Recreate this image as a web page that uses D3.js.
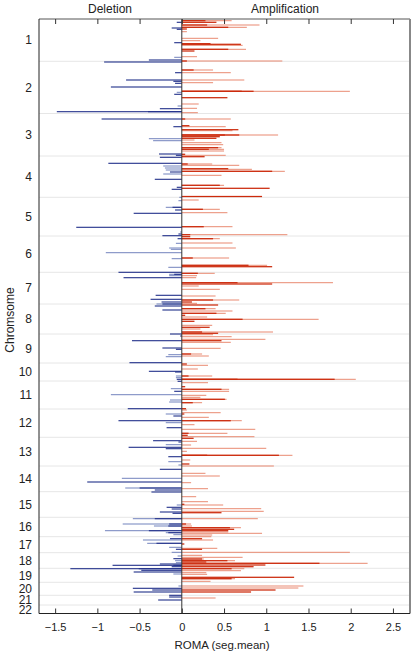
<!DOCTYPE html>
<html><head><meta charset="utf-8">
<script src="https://cdn.jsdelivr.net/npm/d3@7"></script>
<style>body{margin:0;background:#fff;}svg{display:block;font-family:"Liberation Sans",Arial,sans-serif;}</style>
</head><body><svg id="c" width="415" height="656"></svg>
<script>
// ---- data ----
const chromLabels = ["1","2","3","4","5","6","7","8","9","10","11","12","13","14","15","16","17","18","19","20","21","22"];
const chromStarts = [0,42.3,94.5,137,178.3,217,253.3,285,315,344,362,390,418.3,447,472.7,498.3,517.7,533.7,549.3,563.3,576.3,586];
const genomeEnd = 594.5;
const xTicks = [-1.5,-1,-0.5,0,0.5,1,1.5,2,2.5];

// amplification (dark segments)
const ampDarkPos = [1.7,3.3,6,8.3,10,24.7,25.3,30.3,32,42,51,72.3,72.3,78.7,100,106.7,110.7,116,116,117.7,119.3,128.7,130.3,135.3,137.7,145,149.7,152.3,166.3,169.3,177.5,190.3,207.7,215.7,217.7,219.7,239,246.3,247.7,254.3,263.7,265,281,283,286,289.7,294.3,296.3,300.3,302.3,308.3,313,314.3,321.7,335,345,357,360.3,360.3,367.7,370.3,380.3,383.7,389.7,395,401.7,414.3,416.3,419.3,436.3,436.3,445,485.3,493.7,505,508.7,510.3,511.7,519.7,525,530.3,540,541.7,543,544.3,546,547.7,549.7,558.3,559.7,571,573];
const ampDarkVal = [0.28,0.41,0.30,0.55,0.06,0.34,0.70,0.55,0.15,0.06,0.14,0.71,0.85,0.54,0.04,0.09,0.67,0.51,0.68,0.45,0.41,0.43,0.32,0.04,0.27,0.07,0.55,1.07,0.45,1.04,0.95,0.25,0.26,0.10,0.10,0.37,0.13,0.79,1.07,0.19,0.66,1.07,0.37,0.12,0.43,0.28,0.41,0.04,0.72,0.15,0.33,0.24,0.43,0.47,0.11,0.06,0.08,0.66,1.81,0.04,0.47,0.51,0.13,0.05,0.03,0.58,0.08,0.07,0.14,0.30,1.15,0.09,0.03,0.47,0.05,0.57,0.62,0.55,0.24,0.03,0.24,0.24,0.54,0.29,1.63,0.99,0.85,0.59,1.33,0.59,1.11,0.82];
// amplification (light segments)
const ampLightPos = [1.7,6,8.3,12.7,19.3,21.7,26.3,30.3,37.7,42,51,53.7,61,63.7,72.3,85,89.3,93.7,100,107.7,111.7,116,121,123.7,125.7,128.7,130.3,132,136.3,145,146.3,150.3,152.3,156.3,166.3,181,190.3,193.7,207.7,215.7,219.7,224,229,239,246.3,254.3,256.7,258.7,263.7,267,270.3,277,281,284.3,289.7,292,294.3,298,300.3,306.3,310,313,315.7,317.7,320.3,323.3,329.3,335,337,346.3,350,357,360.3,363.7,370.3,372.3,376.3,378.3,380.3,383.7,391,393.7,398.3,401.7,405.7,410.3,414.3,417.7,422.3,426,429.3,432.3,436.3,441,447,454.3,457,463.7,469.7,477.7,482.7,486,489.7,492.3,499.7,505,507,508.7,513,514.3,516,517.7,521,529.3,533.3,536.3,538.3,540,541.7,544.3,549.7,551.7,553.7,555.3,559.7,562.3,567,569,579];
const ampLightVal = [0.59,0.92,0.77,0.06,0.43,0.22,0.72,0.76,0.18,1.19,0.37,0.58,0.74,0.37,1.99,0.20,0.18,0.19,0.58,0.52,0.60,1.14,0.15,0.47,0.49,0.47,0.50,0.50,0.52,0.36,0.68,0.83,1.22,0.47,0.50,0.20,0.45,0.54,0.60,1.25,0.45,0.60,0.64,0.56,1.01,0.39,0.18,0.17,1.79,0.20,0.45,0.40,0.68,0.18,0.40,0.60,0.52,0.30,1.62,0.36,0.22,1.08,0.37,0.59,0.99,0.58,0.46,0.24,0.32,0.31,0.19,0.36,2.06,0.31,0.56,0.56,0.29,0.22,0.53,0.24,0.06,0.46,0.32,0.71,0.15,0.87,0.54,0.86,0.18,0.11,1.00,0.06,1.31,0.10,1.09,0.28,0.45,0.11,0.31,0.17,0.31,0.49,0.94,0.97,0.90,0.11,0.12,0.70,0.55,0.95,0.36,0.35,0.37,0.42,1.99,0.24,0.72,0.26,0.63,2.20,0.74,0.70,0.29,0.30,0.63,0.34,1.44,1.38,0.40];

// deletion (dark segments)
const delDarkPos = [3.3,9,10.3,23.7,41,43,53.7,61,62.3,64.3,68,75.3,89.7,92.7,92.7,100,107.7,135,136.3,138.3,144.3,153,160.3,168.3,170.3,188.3,191,194.3,208.3,215,216.7,219.7,253.3,255.3,258.7,276.3,280.3,283,285,287,291,315,317,321.7,329,330.3,343.7,352.3,353,360.3,362.3,372.3,389.7,397,401.7,408.7,421.7,423,428.3,429.7,437.7,450.3,463,469,471,473,488.3,490,493,494.3,499.7,505,507,511.7,513.7,519.7,524.3,530.3,539.7,545,546.3,546.3,547.7,549.7,549.7,551.3,553,569.3,571,573,576.3,578,581];
const delDarkVal = [-0.06,-0.12,-0.06,-0.09,-0.39,-0.92,-0.08,-0.66,-0.10,-0.08,-0.84,-0.09,-0.26,-1.48,-0.40,-0.95,-0.10,-0.27,-0.07,-0.26,-0.87,-0.14,-0.32,-0.06,-0.12,-0.11,-0.08,-0.57,-1.25,-0.04,-0.23,-0.05,-0.75,-0.09,-0.69,-0.31,-0.37,-0.24,-0.23,-0.32,-0.23,-0.14,-0.02,-0.59,-0.23,-0.07,-0.62,-0.39,-0.08,-0.06,-0.05,-0.09,-0.64,-0.10,-0.75,-0.18,-0.34,-0.04,-0.63,-0.19,-0.16,-0.26,-1.12,-0.50,-0.32,-0.36,-0.18,-0.12,-0.26,-0.11,-0.32,-0.15,-0.16,-0.39,-0.16,-0.14,-0.30,-0.07,-0.10,-0.26,-0.82,-0.10,-0.12,-1.32,-0.51,-0.48,-0.57,-0.58,-0.35,-0.57,-0.15,-0.15,-0.28];
// deletion (light segments)
const delLightPos = [38.3,73.3,87,119.7,121.7,147,149,151,155,178.3,181.7,188.3,213,224.3,229,230.3,233.7,239.7,248.3,255.3,256.7,285,335.7,337.7,357,358.7,369.7,375.7,381,383,395,403.7,425.7,442.7,446,459.3,469,486,499.7,505,507,511.7,513.7,515.7,521,524.3,528.3,533.3,537,541.7,543.7,555,567];
const delLightVal = [-0.09,-0.06,-0.05,-0.39,-0.34,-0.22,-0.20,-0.19,-0.22,-0.03,-0.04,-0.19,-0.02,-0.07,-0.15,-0.13,-0.90,-0.12,-0.16,-0.15,-0.15,-0.30,-0.16,-0.19,-0.07,-0.07,-0.13,-0.84,-0.14,-0.15,-0.19,-0.19,-0.19,-0.16,-0.04,-0.71,-0.67,-0.06,-0.58,-0.70,-0.33,-0.91,-0.19,-0.10,-0.46,-0.41,-0.15,-0.12,-0.05,-0.08,-0.07,-0.10,-0.04];

// ---- chart ----
const svg = d3.select("#c");
const L = 39, R = 410, T = 19, B = 613.5;
const x = d3.scaleLinear().domain([-1.691, 2.702]).range([L, R]);
const y = d3.scaleLinear().domain([0, genomeEnd]).range([T, B]);

// chromosome separators
svg.append("g").selectAll("line").data(chromStarts.slice(1)).join("line")
  .attr("x1", L).attr("x2", R).attr("y1", d => y(d)).attr("y2", d => y(d))
  .attr("stroke", "#e6e6e6").attr("stroke-width", 1);

function bars(pos, val, color, h) {
  svg.append("g").selectAll("rect").data(d3.range(pos.length)).join("rect")
    .attr("x", i => Math.min(x(0), x(val[i])))
    .attr("width", i => Math.abs(x(val[i]) - x(0)))
    .attr("y", i => y(pos[i]) - h / 2)
    .attr("height", h)
    .attr("fill", color);
}
bars(ampLightPos, ampLightVal, "#e98a72", 1.0);
bars(ampDarkPos, ampDarkVal, "#cc2a0c", 1.25);
bars(delLightPos, delLightVal, "#7383bd", 1.0);
bars(delDarkPos, delDarkVal, "#22318a", 1.1);

// zero line
svg.append("line").attr("x1", x(0)).attr("x2", x(0)).attr("y1", T).attr("y2", B)
  .attr("stroke", "#333").attr("stroke-width", 1);

// frame
svg.append("line").attr("x1", L).attr("x2", R).attr("y1", T).attr("y2", T).attr("stroke", "#555");
svg.append("line").attr("x1", R).attr("x2", R).attr("y1", T).attr("y2", B).attr("stroke", "#888").attr("stroke-width", 2);

// bottom axis
const xb = svg.append("g").attr("transform", `translate(0,${B})`)
  .call(d3.axisBottom(x).tickValues(xTicks).tickSize(-5).tickPadding(10).tickFormat(d3.format("")));
xb.select(".domain").attr("stroke", "#222").attr("d", `M${L},0H${R}`);
xb.selectAll(".tick line").attr("stroke", "#333");
xb.selectAll("text").attr("font-size", 11).attr("fill", "#222").attr("font-family", "Liberation Sans, Arial, sans-serif");

// top ticks
const xt = svg.append("g").attr("transform", `translate(0,${T})`)
  .call(d3.axisTop(x).tickValues(xTicks).tickSize(-5).tickFormat(""));
xt.select(".domain").remove();
xt.selectAll(".tick line").attr("stroke", "#333");

// left axis with chromosome labels
const centers = chromStarts.map((s, i) => (s + (i + 1 < chromStarts.length ? chromStarts[i + 1] : genomeEnd)) / 2);
const yl = svg.append("g").attr("transform", `translate(${L},0)`)
  .call(d3.axisLeft(y).tickValues(centers).tickSize(0).tickPadding(7).tickFormat((d, i) => chromLabels[i]));
yl.select(".domain").attr("stroke", "#222").attr("d", `M0,${T}V${B}`);
yl.selectAll("text").attr("font-size", 12).attr("fill", "#222").attr("font-family", "Liberation Sans, Arial, sans-serif");

// titles
svg.append("text").attr("x", 110).attr("y", 13).attr("text-anchor", "middle").attr("font-size", 12).attr("fill", "#222").text("Deletion");
svg.append("text").attr("x", 285).attr("y", 13).attr("text-anchor", "middle").attr("font-size", 12).attr("fill", "#222").text("Amplification");
svg.append("text").attr("x", 222).attr("y", 649).attr("text-anchor", "middle").attr("font-size", 11.5).attr("fill", "#222").text("ROMA (seg.mean)");
svg.append("text").attr("transform", "translate(14,320) rotate(-90)").attr("text-anchor", "middle").attr("font-size", 12).attr("fill", "#222").text("Chromsome");
</script></body></html>
